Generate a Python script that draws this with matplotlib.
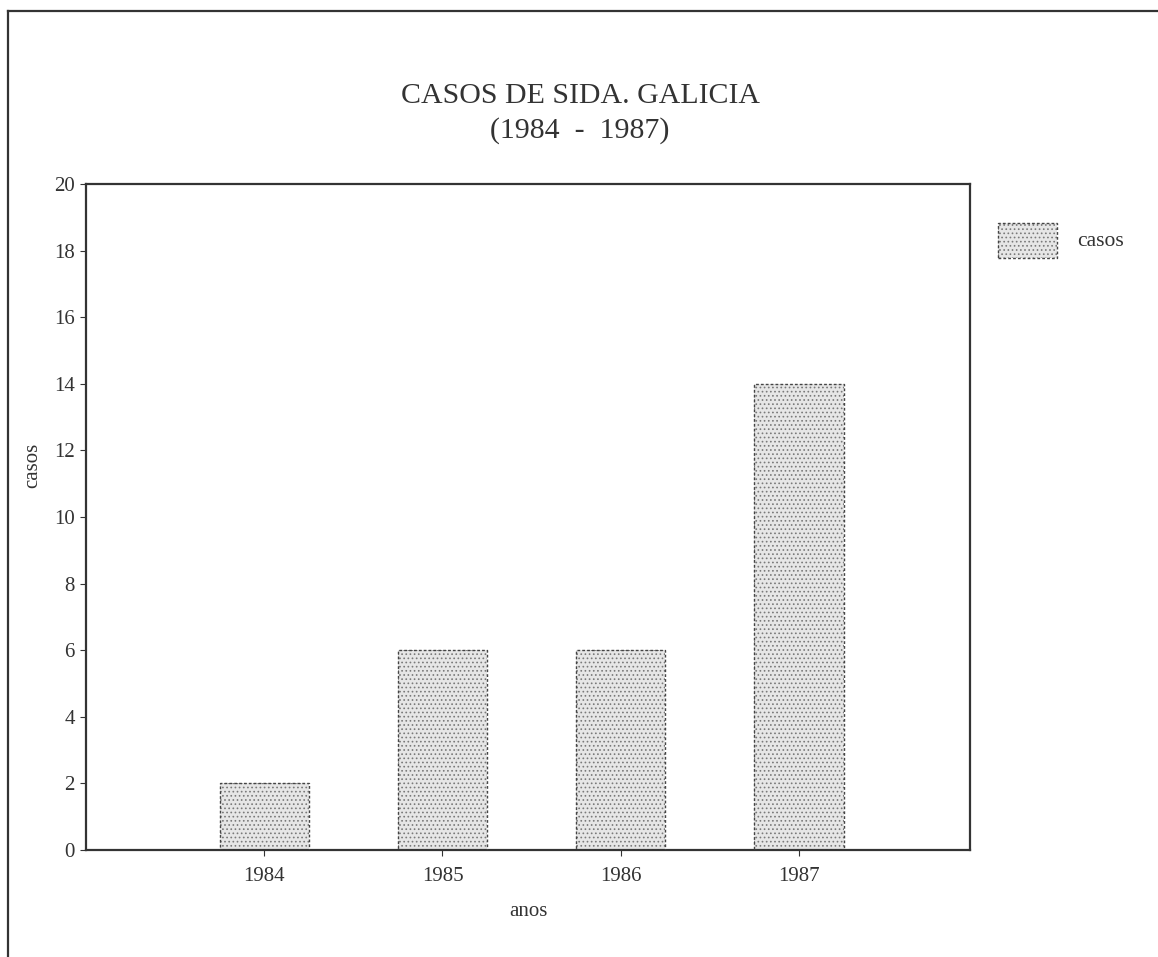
import numpy as np
import matplotlib.pyplot as plt
from matplotlib.lines import Line2D
from matplotlib.patches import Rectangle

#--- Data ---#
years = ['1984', '1985', '1986', '1987']
casos = [2, 6, 6, 14]
yticks = [0, 2, 4, 6, 8, 10, 12, 14, 16, 18, 20]

plt.rcParams['font.family'] = ['Liberation Serif', 'DejaVu Serif']
plt.rcParams['hatch.linewidth'] = 0.7

fig = plt.figure(figsize=(11.58, 9.57), dpi=100)
ax = fig.add_axes([0.0743, 0.1118, 0.7634, 0.6959])

x = np.arange(len(years))

# stippled fill, then dashed outline on top
ax.bar(x, casos, width=0.5, color='#e6e6e6', hatch='....',
       edgecolor='#7a7a7a', linewidth=0, zorder=2)
ax.bar(x, casos, width=0.5, fill=False, edgecolor='#444444',
       linewidth=1.0, linestyle=(0, (2, 1.5)), zorder=3)

ax.set_xlim(-1, 3.96)
ax.set_ylim(0, 20)
ax.set_xticks(x)
ax.set_xticklabels(years)
ax.set_yticks(yticks)

for s in ax.spines.values():
    s.set_linewidth(1.6)
    s.set_color('#333333')

ax.tick_params(axis='y', direction='out', length=4, width=0.8,
               labelsize=15, pad=4, colors='#333333')
ax.tick_params(axis='x', direction='inout', length=8, width=0.8,
               labelsize=15, pad=8, colors='#333333')

ax.set_xlabel('anos', fontsize=15, color='#333333', labelpad=12)
ax.set_ylabel('casos', fontsize=15, color='#333333')
ax.yaxis.set_label_coords(-0.049, 0.578)

fig.text(0.501, 0.900, 'CASOS DE SIDA. GALICIA', ha='center', va='center',
         fontsize=21.5, color='#333333')
fig.text(0.501, 0.864, '(1984  -  1987)', ha='center', va='center',
         fontsize=21.5, color='#333333')

# legend drawn as a figure patch + text
fig.patches.append(Rectangle((998 / 1158, 1 - 258 / 957), 59 / 1158, 35 / 957,
                             transform=fig.transFigure, facecolor='#e6e6e6',
                             hatch='....', edgecolor='#7a7a7a', linewidth=0))
fig.patches.append(Rectangle((998 / 1158, 1 - 258 / 957), 59 / 1158, 35 / 957,
                             transform=fig.transFigure, fill=False,
                             edgecolor='#444444', linewidth=1.0,
                             linestyle=(0, (2, 1.5))))
fig.text(1077 / 1158, 1 - 241 / 957, 'casos', ha='left', va='center',
         fontsize=15.5, color='#333333')

# outer page frame (left and top edges)
fig.lines.append(Line2D([8 / 1158, 8 / 1158], [0, 1 - 11 / 957],
                        transform=fig.transFigure, color='#333333', lw=1.6))
fig.lines.append(Line2D([8 / 1158, 1], [1 - 11 / 957, 1 - 11 / 957],
                        transform=fig.transFigure, color='#333333', lw=1.6))

fig.savefig('out.png', dpi=100)
